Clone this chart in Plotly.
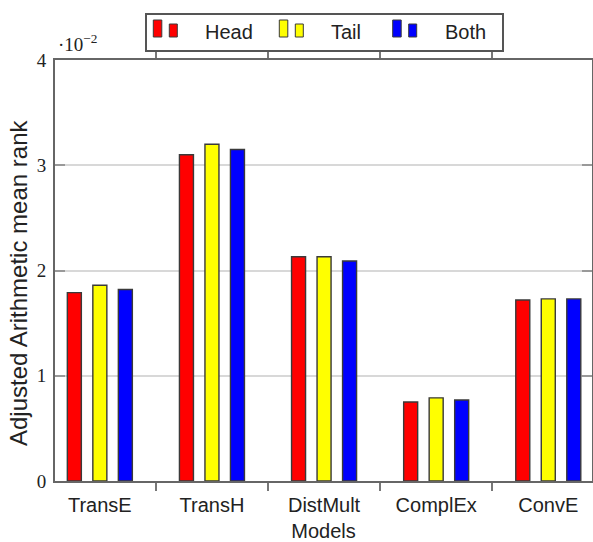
import plotly.graph_objects as go

# Data (values in units of 10^-2)
models = ["TransE", "TransH", "DistMult", "ComplEx", "ConvE"]
series_names = ["Head", "Tail", "Both"]
head = [1.79, 3.10, 2.13, 0.75, 1.72]
tail = [1.86, 3.20, 2.13, 0.79, 1.73]
both = [1.82, 3.15, 2.09, 0.77, 1.73]
colors = ["#ff0000", "#ffff00", "#0000ff"]
y_ticks = [0, 1, 2, 3, 4]

W, H = 593, 542
ML, MR, MT, MB = 55, 1, 60, 61
PW, PH = W - ML - MR, H - MT - MB

def px_x(x):
    return (x - ML) / PW

def px_y(y):
    return (H - MB - y) / PH

fig = go.Figure()
offsets = [-0.29, -0.0625, 0.165]
for name, vals, col, off in zip(series_names, [head, tail, both], colors, offsets):
    fig.add_trace(go.Bar(
        x=models, y=vals, name=name, offset=off, width=0.125,
        marker=dict(color=col, line=dict(color="#3a3a3a", width=1.4)),
        showlegend=False,
    ))

shapes = []
annotations = []
# legend box
shapes.append(dict(type="rect", xref="paper", yref="paper",
                   x0=px_x(146), x1=px_x(503), y0=px_y(51), y1=px_y(14),
                   line=dict(color="#555555", width=2), fillcolor="white", layer="above"))
entry_x = [153.3, 279.3, 392.7]
for name, col, ex in zip(series_names, colors, entry_x):
    shapes.append(dict(type="rect", xref="paper", yref="paper",
                       x0=px_x(ex), x1=px_x(ex + 8.5), y0=px_y(37), y1=px_y(20),
                       line=dict(color="#3a3a3a", width=1), fillcolor=col, layer="above"))
    shapes.append(dict(type="rect", xref="paper", yref="paper",
                       x0=px_x(ex + 16), x1=px_x(ex + 24), y0=px_y(37), y1=px_y(24),
                       line=dict(color="#3a3a3a", width=1), fillcolor=col, layer="above"))
    annotations.append(dict(text=name, xref="paper", yref="paper",
                            x=px_x(ex + 50), y=px_y(32), xanchor="left", yanchor="middle",
                            showarrow=False,
                            font=dict(family="Liberation Sans, Arial, sans-serif", size=20, color="#222")))

# scale annotation
annotations.append(dict(text="·10<sup>−2</sup>", xref="paper", yref="paper",
                        x=px_x(56), y=px_y(57), xanchor="left", yanchor="bottom",
                        showarrow=False,
                        font=dict(family="Liberation Serif, serif", size=19, color="#222")))

# y-axis title
annotations.append(dict(text="Adjusted Arithmetic mean rank", xref="paper", yref="paper",
                        x=px_x(18), y=px_y(283), xanchor="center", yanchor="middle",
                        textangle=-90, showarrow=False,
                        font=dict(family="Liberation Sans, Arial, sans-serif", size=24, color="#222")))

fig.update_layout(
    width=W, height=H,
    margin=dict(l=ML, r=MR, t=MT, b=MB, autoexpand=False),
    paper_bgcolor="white", plot_bgcolor="white",
    barmode="overlay",
    shapes=shapes, annotations=annotations,
    xaxis=dict(
        type="category", range=[-0.4, 4.39],
        tickson="boundaries", ticks="outside", ticklen=8, tickwidth=1.5, tickcolor="#777",
        ticklabelstandoff=5,
        showline=True, linecolor="#666", linewidth=2, mirror="ticks",
        showgrid=False,
        tickfont=dict(family="Liberation Sans, Arial, sans-serif", size=20, color="#222"),
        title=dict(text="Models", standoff=9,
                   font=dict(family="Liberation Sans, Arial, sans-serif", size=20, color="#222")),
    ),
    yaxis=dict(
        range=[0, 4], tickvals=y_ticks, ticktext=[str(t) for t in y_ticks],
        ticks="inside", ticklen=10, tickwidth=1.5, tickcolor="#999",
        ticklabelstandoff=3,
        showline=True, linecolor="#666", linewidth=2, mirror="ticks",
        showgrid=True, gridcolor="#d8d8d8", gridwidth=1.5,
        zeroline=False,
        tickfont=dict(family="Liberation Serif, serif", size=19, color="#222"),
    ),
)

fig.write_html("out.html", config={"displayModeBar": False},
               post_script="document.body.style.margin='0';document.body.style.padding='0';")
